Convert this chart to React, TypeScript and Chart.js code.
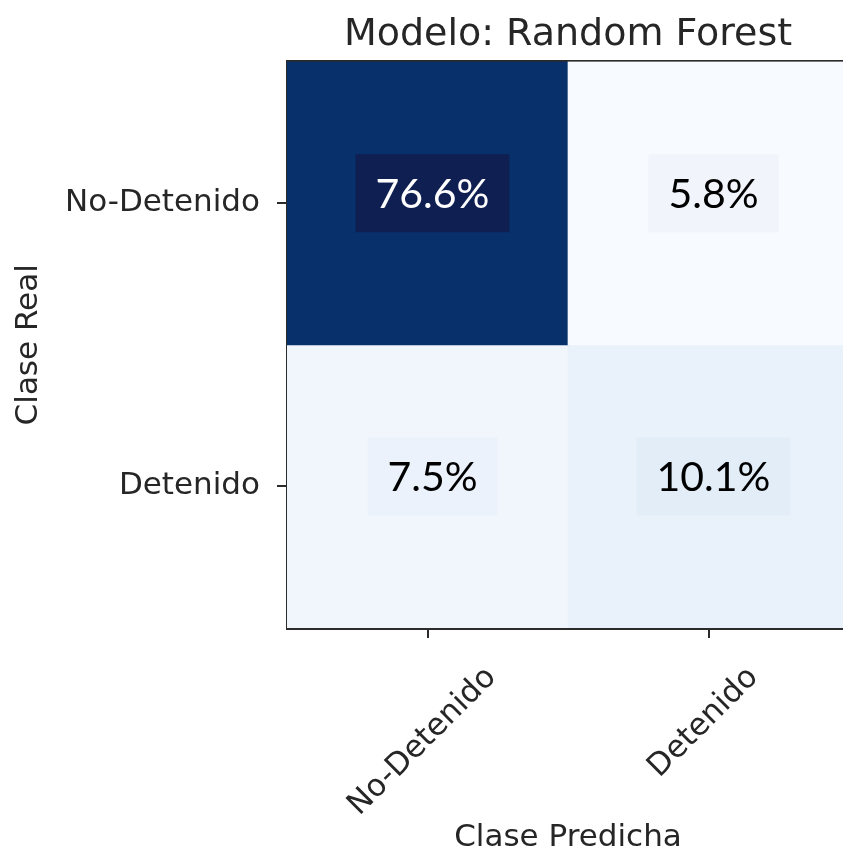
import React, { useEffect, useRef } from 'react';
import { Chart, registerables } from 'chart.js';

Chart.register(...registerables);

// ---- data ----
const titleText = 'Modelo: Random Forest';
const predictedClasses = ['No-Detenido', 'Detenido'];
const realClasses = ['No-Detenido', 'Detenido'];
const rowNoDetenido = [76.6, 5.8];
const rowDetenido = [7.5, 10.1];
const xAxisTitle = 'Clase Predicha';
const yAxisTitle = 'Clase Real';

// ---- styles ----
const cellColorsNoDetenido = ['#08306b', '#f7fbff'];
const cellColorsDetenido = ['#f1f6fc', '#e9f1fb'];
const boxColorsNoDetenido = ['#0f1f52', '#f1f5fb'];
const boxColorsDetenido = ['#ebf2fb', '#e3edf8'];
const textColorsNoDetenido = ['#ffffff', '#000000'];
const textColorsDetenido = ['#000000', '#000000'];
const axisColor = '#2b2b2b';
const textColor = '#262626';

const rows = [rowNoDetenido, rowDetenido];
const boxColors = [boxColorsNoDetenido, boxColorsDetenido];
const textColors = [textColorsNoDetenido, textColorsDetenido];

const CANVAS_W = 870;
const CANVAS_H = 857;

const cellLabelsPlugin = {
  id: 'cellLabels',
  afterDatasetsDraw(chart: any) {
    const { ctx } = chart;
    const xs = chart.scales.x;
    const ys = chart.scales.y;
    ctx.save();
    ctx.font = '41px Lato';
    rows.forEach((row, r) => {
      row.forEach((v, c) => {
        const cx = xs.getPixelForValue(c) + 5;
        const cy = ys.getPixelForValue(r + 0.5) - 10;
        const text = v.toFixed(1) + '%';
        const w = ctx.measureText(text).width;
        const bw = w + 40;
        const bh = 78;
        ctx.fillStyle = boxColors[r][c];
        ctx.fillRect(cx - bw / 2, cy - bh / 2, bw, bh);
        ctx.fillStyle = textColors[r][c];
        ctx.textAlign = 'center';
        ctx.textBaseline = 'alphabetic';
        ctx.fillText(text, cx, cy + 15);
      });
    });
    ctx.restore();
  },
};

const xTickLabelsPlugin = {
  id: 'xTickLabels',
  afterDraw(chart: any) {
    const { ctx } = chart;
    const xs = chart.scales.x;
    ctx.save();
    ctx.font = "31px 'DejaVu Sans'";
    ctx.fillStyle = textColor;
    predictedClasses.forEach((lab, i) => {
      const x = xs.getPixelForTick(i) - 5;
      const w = ctx.measureText(lab).width;
      const h = 36;
      const side = (w + h) * Math.SQRT1_2;
      const cy = xs.top + 32 + side / 2;
      ctx.translate(x, cy);
      ctx.rotate(-Math.PI / 4);
      ctx.textAlign = 'center';
      ctx.textBaseline = 'middle';
      ctx.fillText(lab, 0, 0);
      ctx.setTransform(1, 0, 0, 1, 0, 0);
    });
    ctx.restore();
  },
};

export default function App() {
  const ref = useRef<HTMLCanvasElement>(null);

  useEffect(() => {
    if (!ref.current) return;
    Chart.defaults.font.family = "'DejaVu Sans'";
    const chart = new Chart(ref.current, {
      type: 'bar',
      data: {
        labels: predictedClasses,
        datasets: realClasses.map((rc, r) => ({
          label: rc,
          data: predictedClasses.map(() => [r, r + 1]) as any,
          backgroundColor: r === 0 ? cellColorsNoDetenido : cellColorsDetenido,
          borderWidth: 0,
          barPercentage: 1,
          categoryPercentage: 1,
          grouped: false,
        })),
      },
      options: {
        responsive: false,
        animation: false,
        devicePixelRatio: 1,
        layout: { padding: { left: 0, right: CANVAS_W - 849, top: 0, bottom: 0 } },
        plugins: {
          legend: { display: false },
          tooltip: { enabled: false },
          title: {
            display: true,
            text: titleText,
            fullSize: false,
            color: textColor,
            font: { size: 38, family: "'DejaVu Sans'", weight: 'normal' },
            padding: { top: 12, bottom: 4 },
          },
        },
        scales: {
          x: {
            type: 'category',
            position: 'bottom',
            offset: true,
            z: 1,
            grid: {
              display: true,
              drawOnChartArea: false,
              drawTicks: true,
              tickLength: 10,
              offset: false,
              color: axisColor,
              lineWidth: 2,
            },
            border: { display: true, color: axisColor, width: 3 },
            ticks: { display: false },
            title: {
              display: true,
              text: xAxisTitle,
              color: textColor,
              font: { size: 31, family: "'DejaVu Sans'" },
              padding: { top: 0, bottom: 0 },
            },
            afterFit: (s: any) => {
              s.height = 229;
            },
          },
          x2: {
            type: 'category',
            position: 'top',
            offset: true,
            z: 1,
            grid: { display: false, drawTicks: false },
            border: { display: true, color: axisColor, width: 3 },
            ticks: { display: false },
            afterFit: (s: any) => {
              s.height = 0;
            },
          },
          y: {
            type: 'linear',
            min: 0,
            max: 2,
            reverse: true,
            z: 1,
            grid: {
              display: true,
              drawOnChartArea: false,
              drawTicks: true,
              tickLength: 10,
              color: axisColor,
              lineWidth: 2,
            },
            border: { display: true, color: axisColor, width: 3 },
            afterBuildTicks: (s: any) => {
              s.ticks = realClasses.map((_, i) => ({ value: i + 0.5 }));
            },
            ticks: {
              color: textColor,
              font: { size: 31, family: "'DejaVu Sans'" },
              padding: 17,
              callback: (v: any) => realClasses[Math.round(Number(v) - 0.5)] ?? '',
            },
            title: {
              display: true,
              text: yAxisTitle,
              color: textColor,
              font: { size: 31, family: "'DejaVu Sans'" },
              padding: { top: 10, bottom: 0 },
            },
            afterFit: (s: any) => {
              s.width = 287;
            },
          },
        },
      } as any,
      plugins: [cellLabelsPlugin, xTickLabelsPlugin],
    });
    return () => chart.destroy();
  }, []);

  return (
    <div
      style={{
        position: 'fixed',
        left: 0,
        top: 0,
        width: 843,
        height: 857,
        overflow: 'hidden',
        background: '#ffffff',
      }}
    >
      <canvas
        ref={ref}
        width={CANVAS_W}
        height={CANVAS_H}
        style={{ display: 'block', width: CANVAS_W, height: CANVAS_H }}
      />
    </div>
  );
}
